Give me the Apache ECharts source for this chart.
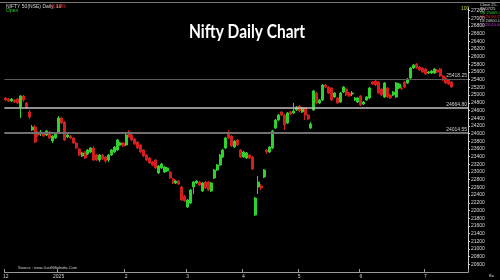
<!DOCTYPE html>
<html><head><meta charset="utf-8">
<script src="https://cdn.jsdelivr.net/npm/echarts@6/dist/echarts.min.js"></script>
<style>html,body{margin:0;padding:0;background:#000}#c{width:500px;height:280px}</style>
</head><body><div id="c"></div>
<script>
const opens=[24924,24898,24846,24872,24898,24690,24976,24794,24560,24092,24170,24014,23988,24014,23962,24040,23806,23884,
24014,24404,24300,23910,23936,23884,23754,23598,23416,23520,23468,23520,23624,23442,23312,23442,23390,23312,23442,23520,23572,23702,23754,23702,24040,23962,23858,23780,23702,23572,23442,
23364,23260,23312,22974,23104,23000,23026,23000,22818,22714,22766,22610,22376,22090,22194,22610,22714,22740,22506,22740,22740,22506,22844,23052,23182,23390,23624,24014,23936,23650,23832,23572,23390,23364,23442,23390,
21882,22610,22636,22870,23572,23520,23624,24144,24352,24560,24482,24274,24560,24534,24612,24716,24560,24664,24482,24144,24612,25054,24794,24872,25262,25210,25184,24950,24924,24820,25080,25158,25054,25028,24872,24820,24976,24768,24872,24924,
25340,25366,25340,25158,24950,25184,25002,25002,24950,25184,25184,25340,25314,25444,25704,25808,25730,25704,25678,25574,25574,25574,25652,25678,25496,25444,25392,25340];
const closes=[24872,24846,24898,24820,24794,24976,24872,24664,24430,24170,23780,23962,24040,23936,24066,23884,23936,23988,
24404,24274,23832,23962,23884,23754,23624,23442,23494,23364,23572,23624,23312,23312,23442,23338,23286,23442,23572,23650,23832,23754,23676,23962,23910,23832,23728,23624,23520,23416,23312,
23234,23182,23104,23156,23208,23130,23104,22844,22714,22766,22688,22272,22246,22272,22532,22740,22766,22662,22714,22584,22532,22714,23052,23182,23442,23572,23884,23884,23676,23806,23702,23390,23520,23494,23364,23078,
22324,22740,22584,23052,23520,23650,24066,24352,24482,24482,24222,24534,24508,24586,24690,24586,24664,24482,24378,24248,25106,24794,24872,25262,25210,25054,24872,25054,24794,25054,25210,25002,24976,25054,24924,24924,24742,24820,24950,25184,
25288,25262,25054,25002,25314,24950,24924,25080,25314,25288,25170,25210,25418,25704,25782,25704,25652,25600,25548,25600,25626,25678,25600,25496,25392,25314,25288,25210];
const lows=[24846,24820,24820,24794,24768,24404,24820,24638,24378,24066,23754,23910,23936,23910,23936,23858,23754,23858,
23988,24248,23806,23884,23858,23728,23598,23416,23390,23338,23442,23494,23286,23286,23260,23312,23234,23260,23416,23494,23546,23676,23650,23676,23884,23806,23702,23598,23494,23390,23286,
23208,23156,23078,22948,23078,22974,23000,22818,22688,22688,22662,22246,22220,22064,22168,22428,22688,22636,22480,22558,22506,22480,22818,23026,23156,23364,23598,23858,23650,23624,23676,23364,23364,23338,23338,23052,
21856,22428,22532,22844,23468,23494,23598,24118,24326,24456,24092,24248,24482,24508,24586,24560,24534,24352,24352,24118,24586,24768,24768,24846,25184,25028,24846,24924,24768,24794,25054,24976,24950,24976,24846,24794,24716,24742,24846,24898,
25262,25236,25028,24976,24924,24924,24898,24976,24924,25158,25132,25184,25288,25418,25678,25678,25626,25574,25522,25548,25548,25548,25574,25470,25366,25288,25262,25184];
const highs=[24950,24924,24924,24898,24924,25002,25002,24820,24612,24222,24222,24066,24092,24040,24092,24066,23962,24014,
24456,24430,24326,23988,23962,23910,23780,23624,23520,23546,23598,23650,23676,23468,23468,23468,23416,23468,23598,23676,23858,23780,23780,24014,24092,23988,23884,23806,23728,23598,23468,
23390,23286,23338,23182,23234,23156,23130,23026,22844,22792,22792,22636,22402,22298,22558,22766,22792,22766,22740,22766,22766,22740,23078,23208,23468,23598,23910,24092,23962,23832,23858,23598,23546,23520,23468,23416,
22350,22896,22688,23078,23598,23676,24092,24378,24508,24586,24508,24560,24586,24794,24716,24742,24690,24690,24508,24300,25132,25080,24898,25288,25288,25236,25210,25080,24950,25080,25236,25184,25080,25106,24950,24950,25002,24846,24976,25210,
25366,25392,25366,25184,25340,25210,25028,25106,25340,25314,25236,25366,25444,25730,25808,25834,25756,25730,25704,25626,25652,25704,25678,25704,25522,25470,25418,25366];
const monthLabels={0:'12',18:'2025',41:'2',62:'3',81:'4',100:'5',121:'6',143:'7'};
const levelValues=[25418.25,24664.80,24014.55];
const blankBars=5;

const N=opens.length;
const cats=[];for(let i=0;i<N+blankBars;i++)cats.push(String(i));
const ohlc=opens.map((o,i)=>[o,closes[i],lows[i],highs[i]]);
const lastClose=closes[N-1];
const levelStyles=[{color:'#5a5a5a',width:1},{color:'#c0c0c0',width:1.5},{color:'#707070',width:2}];

const chart=echarts.init(document.getElementById('c'),null,{renderer:'canvas'});
chart.setOption({
  backgroundColor:'#000',
  animation:false,
  grid:{left:4,right:32,top:8,bottom:8},
  xAxis:{type:'category',data:cats,boundaryGap:true,
    axisLine:{show:true,lineStyle:{color:'#9a9a9a',width:1}},
    axisTick:{show:true,interval:(i)=>monthLabels[i]!==undefined,length:-3,lineStyle:{color:'#9a9a9a'}},
    axisLabel:{show:true,interval:(i)=>monthLabels[i]!==undefined,formatter:(v,i)=>monthLabels[i]||'',color:'#cfcfcf',fontSize:5,margin:2,fontFamily:'Liberation Sans'},
    splitLine:{show:false}},
  yAxis:{type:'value',position:'right',min:20400,max:27264,interval:200,scale:false,
    axisLine:{show:true,lineStyle:{color:'#d0d0d0',width:1}},
    axisTick:{show:true,length:2,lineStyle:{color:'#d0d0d0'}},
    axisLabel:{color:'#d8d8d8',fontSize:5,margin:3,fontFamily:'Liberation Sans',showMinLabel:false,showMaxLabel:false,formatter:(v)=>String(v)},
    splitLine:{show:false}},
  series:[{type:'candlestick',data:ohlc,barWidth:'85%',
    itemStyle:{color:'#2fd12f',color0:'#d21e1e',borderColor:'#2fd12f',borderColor0:'#d21e1e',borderWidth:1},
    markLine:{silent:true,symbol:'none',animation:false,
      data:levelValues.map((v,k)=>({yAxis:v,lineStyle:{color:levelStyles[k].color,width:levelStyles[k].width,type:'solid'},
        label:{show:true,position:'insideEndTop',formatter:v.toFixed(2),color:'#cfcfcf',fontSize:5,distance:1,fontFamily:'Liberation Sans'}}))
        .concat([{yAxis:lastClose,lineStyle:{opacity:0},
          label:{show:true,position:'end',formatter:String(lastClose),color:'#000',backgroundColor:'#eeeeee',fontSize:5,padding:[1,2],distance:2,fontFamily:'Liberation Sans'}}])
    }}],
  graphic:[
    {type:'line',shape:{x1:0,y1:2.5,x2:500,y2:2.5},style:{stroke:'#777',lineWidth:1}},
    {type:'text',x:247,y:32,scaleX:0.86,style:{text:'Nifty Daily Chart',fill:'#fff',font:'bold 18px Lato',textAlign:'center',textVerticalAlign:'middle'}},
    {type:'text',x:6,y:4,style:{text:'NIFTY 50(NSE) Daily, 1d',fill:'#d0d0d0',font:'5px Liberation Sans'}},
    {type:'text',x:50,y:4,style:{text:'-0.43%',fill:'#e03030',font:'5px Liberation Sans'}},
    {type:'text',x:6,y:8,style:{text:'Open',fill:'#30d030',font:'5px Liberation Sans'}},
    {type:'text',x:461,y:6,style:{text:'100',fill:'#c8d040',font:'5px Liberation Sans'}},
    {type:'text',x:480,y:3,style:{text:'Close 25..',fill:'#ddd',font:'4px Liberation Sans'}},
    {type:'text',x:480,y:7,style:{text:'25/07/25',fill:'#ddd',font:'4px Liberation Sans'}},
    {type:'text',x:480,y:11,style:{text:'Op 25069.40',fill:'#30d030',font:'4px Liberation Sans'}},
    {type:'text',x:480,y:15,style:{text:'Hi 25090.25',fill:'#e03030',font:'4px Liberation Sans'}},
    {type:'text',x:480,y:19,style:{text:'Lo 24900.10',fill:'#ddd',font:'4px Liberation Sans'}},
    {type:'text',x:480,y:23,style:{text:'Cl 25010.00',fill:'#b040c0',font:'4px Liberation Sans'}},
    {type:'text',x:18,y:266,style:{text:'Source : www.JustNiftyIndia.Com',fill:'#cfcfcf',font:'4px Liberation Sans'}},
    {type:'text',x:489,y:274,style:{text:'Ba',fill:'#cfcfcf',font:'4px Liberation Sans'}}
  ]
});
</script></body></html>
